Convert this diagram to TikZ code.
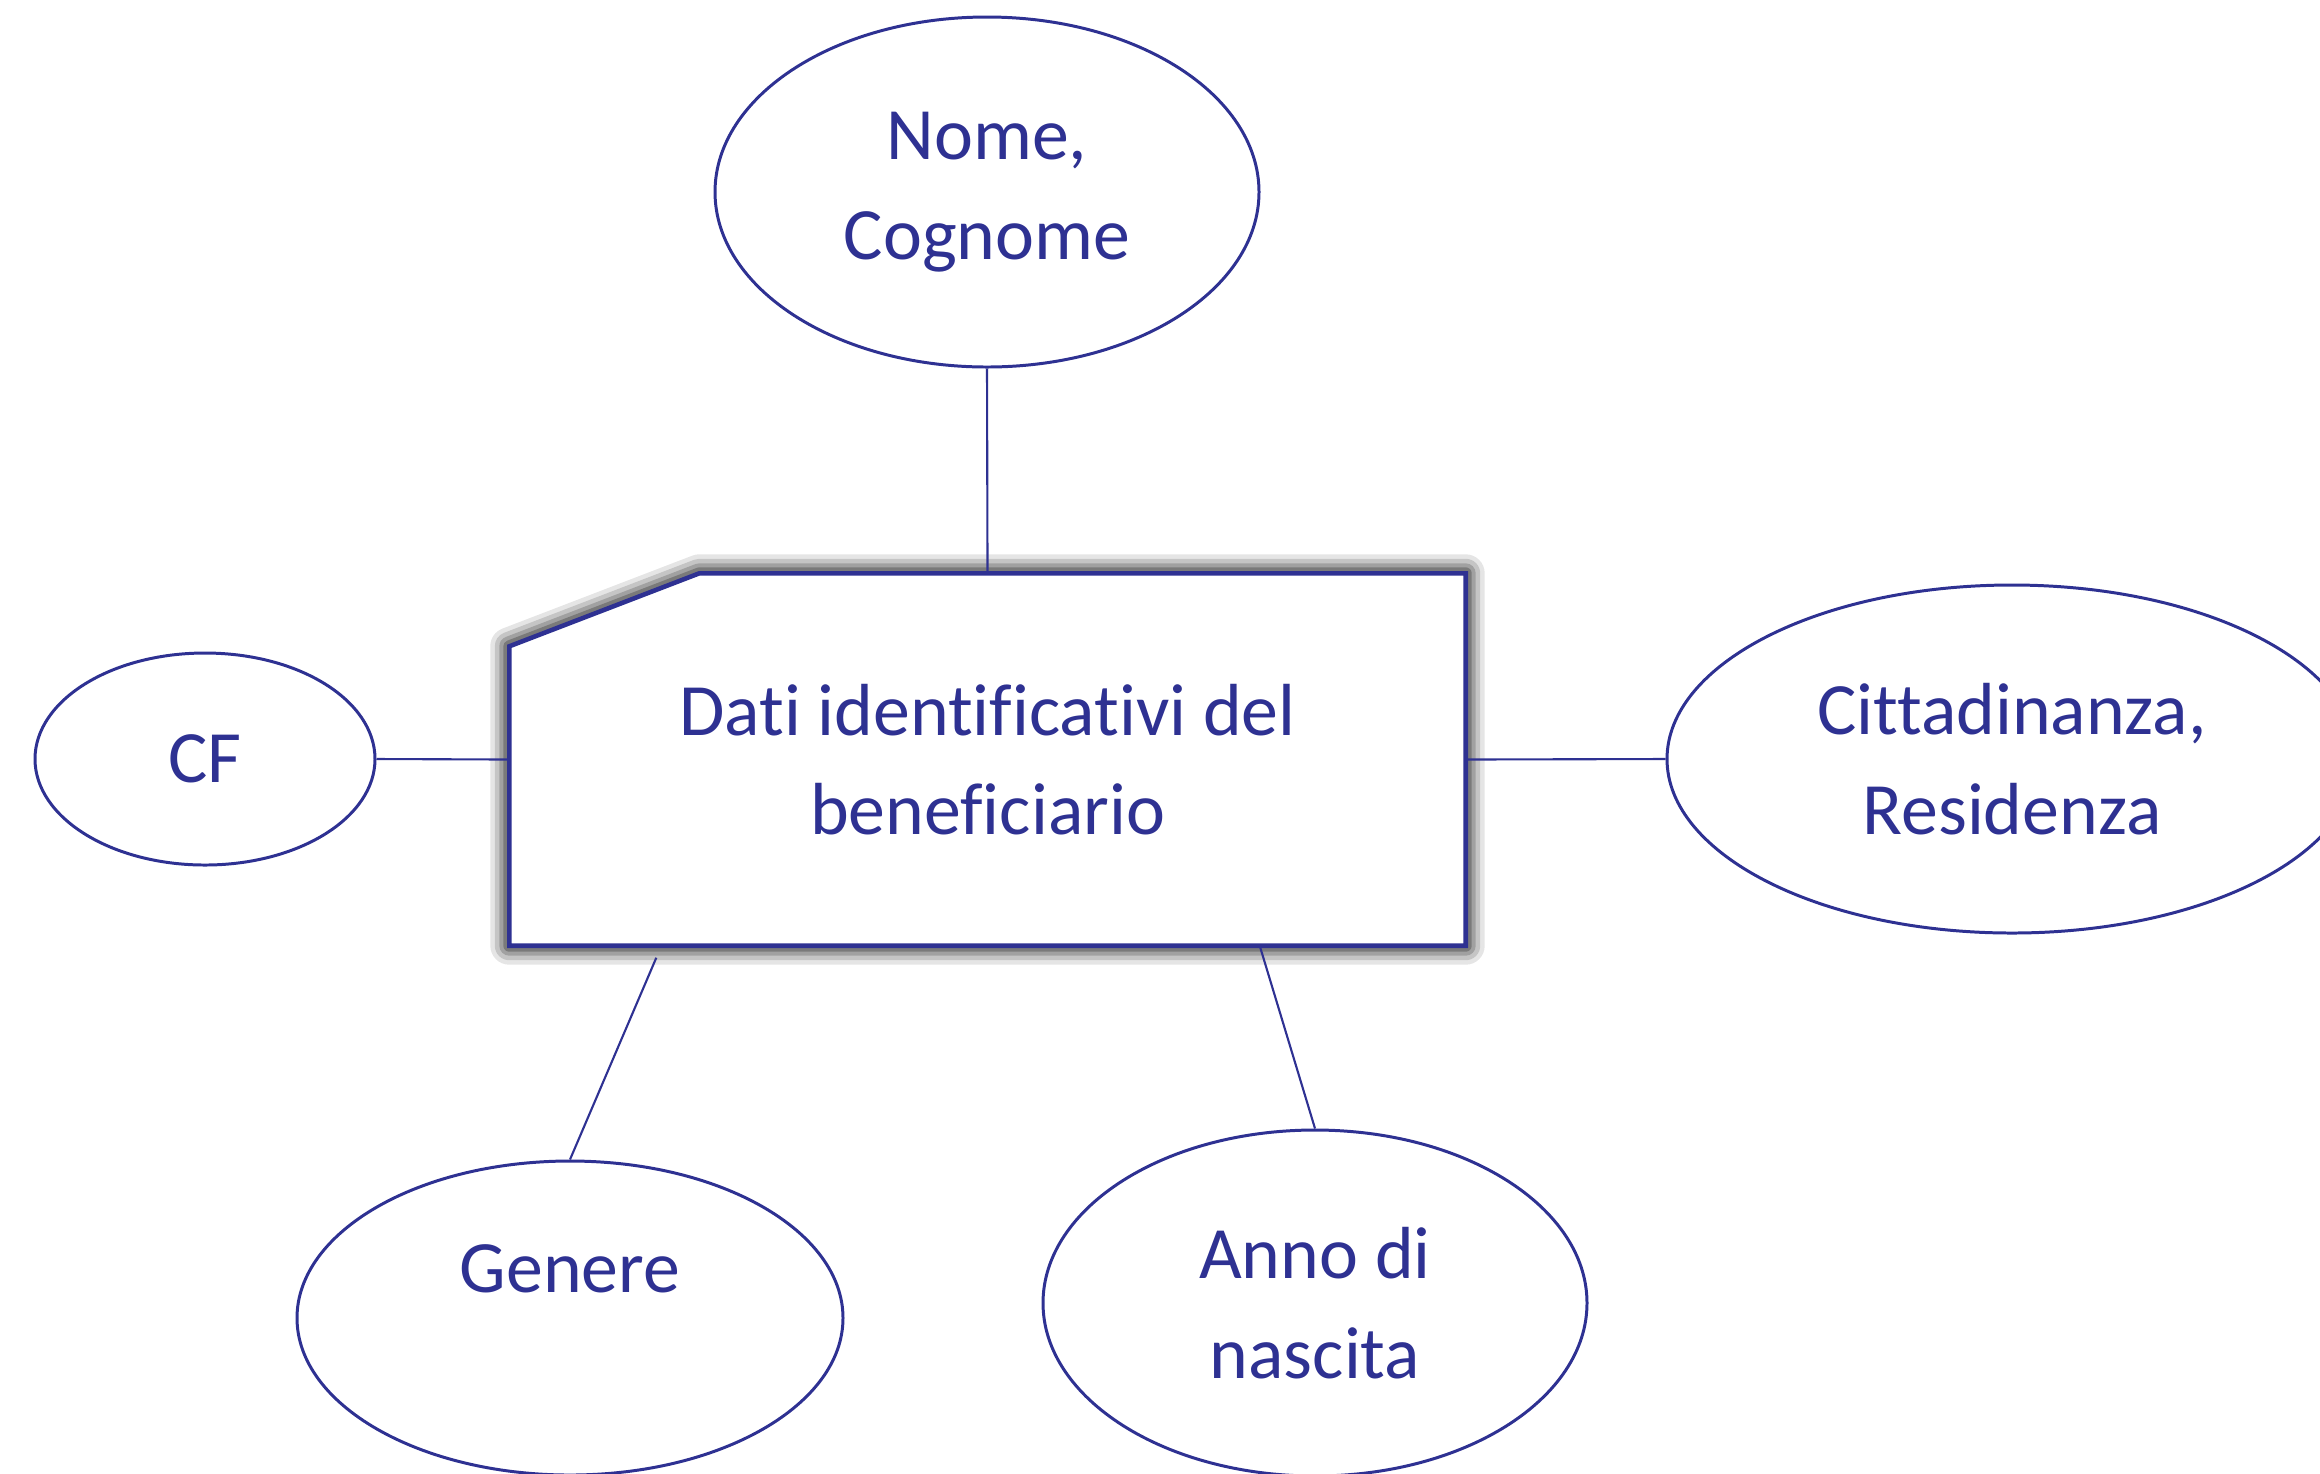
\documentclass[tikz,border=0pt]{standalone}
\usepackage{fontspec}
\setmainfont[Ligatures={NoCommon}]{Carlito}
\usetikzlibrary{shapes.geometric,calc}
\definecolor{ink}{RGB}{46,49,146}
\definecolor{shade}{RGB}{100,100,165}
\pgfdeclarelayer{bg}
\pgfsetlayers{bg,main}

\begin{document}
\begin{tikzpicture}[x=0.1mm, y=-0.1mm,
    every node/.style={text=ink, align=center, font=\fontsize{21pt}{28.3pt}\selectfont},
    attr/.style={ellipse, draw=ink, line width=0.85pt, inner sep=0pt},
    link/.style={draw=ink, line width=0.6pt}]
\useasboundingbox (0,0) rectangle (2320,1473);

% entity box
\node[rectangle, inner sep=0pt, minimum width=95.5mm, minimum height=37.1mm] (dati) at (987.5,759.5)
    {Dati identificativi del\\beneficiario};

% attributes
\node[attr, minimum width=54.4mm, minimum height=35mm] (nome) at (987,192) {Nome,\\Cognome};
\node[attr, minimum width=34mm, minimum height=21.2mm] (cf) at (205,759) {CF};
\node[attr, minimum width=69mm, minimum height=34.8mm] (citt) at (2012,759) {Cittadinanza,\\Residenza};
\node[attr, minimum width=54.6mm, minimum height=31.4mm] (gen) at (570,1318) {Genere\\ };
\node[attr, minimum width=54.4mm, minimum height=34.6mm] (anno) at (1315,1303) {Anno di\\nascita};

\begin{pgfonlayer}{bg}
\coordinate (c1) at ($(dati.north west)+(0,73)$);
\coordinate (c2) at ($(dati.north west)+(190,0)$);
\foreach \w/\o in {3.8mm/.1, 2.9mm/.14, 2mm/.18, 1.2mm/.24}
{
    \draw[shade, line width=\w, opacity=\o, line join=round]
        (dati.south west)--(c1)--(c2)--(dati.north east)--(dati.south east)--cycle;
}
\draw[ink, fill=white, line width=1.3pt]
    (dati.south west)--(c1)--(c2)--(dati.north east)--(dati.south east)--cycle;
\end{pgfonlayer}

% links
\coordinate (g1) at ($(dati.south west)+(147,12)$);
\coordinate (a1) at ($(dati.south west)+(751,2)$);
\draw[link](nome.south)--(dati.north);
\draw[link](cf.east)--(dati.west);
\draw[link](dati.east)--(citt.west);
\draw[link](g1)--(gen.north);
\draw[link](a1)--(anno.north);
\end{tikzpicture}
\end{document}
